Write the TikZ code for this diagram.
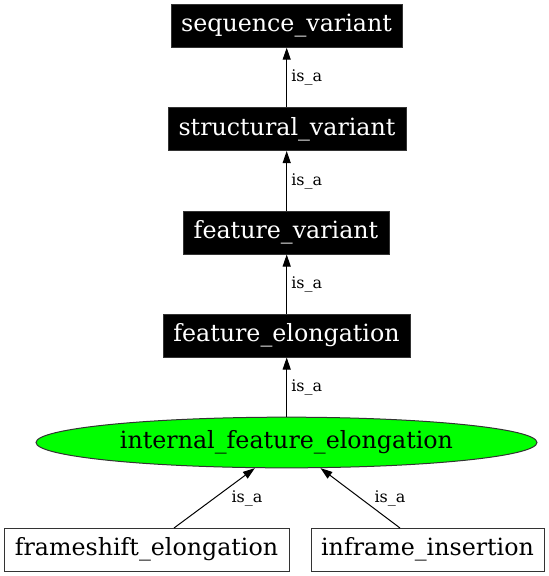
\documentclass[tikz,border=0pt]{standalone}
\usepackage{fontspec}
\setmainfont{DejaVu Serif}
\usetikzlibrary{arrows.meta,shapes.geometric}
\newcommand{\nodefnt}{\fontsize{17.8}{21}\selectfont}
\newcommand{\labfnt}{\fontsize{12}{14}\selectfont}
\tikzset{
  darkbox/.style={rectangle, fill=black, draw=black!80, line width=0.75pt, text=white, inner sep=0pt, minimum height=32.25pt, font=\nodefnt},
  whitebox/.style={rectangle, fill=white, draw=black!80, line width=0.75pt, text=black, inner sep=0pt, minimum height=32.25pt, font=\nodefnt},
  greenell/.style={ellipse, fill=green, draw=black!80, line width=0.75pt, inner sep=0pt, minimum width=375.75pt, minimum height=38pt, font=\nodefnt},
  isa/.style={-{Triangle[length=9pt,width=6pt]}, line width=0.75pt, black},
  elab/.style={font=\labfnt, inner sep=0pt}
}
\begin{document}
\begin{tikzpicture}[x=0.75pt,y=-0.75pt]
\useasboundingbox (0,0) rectangle (549,576);
\node[darkbox, minimum width=173.25pt] (sv) at (286.5,25.7) {sequence\_variant};
\node[darkbox, minimum width=178.5pt] (stv) at (287,129) {structural\_variant};
\node[darkbox, minimum width=154.5pt] (fv) at (286,232.5) {feature\_variant};
\node[darkbox, minimum width=185.25pt] (fe) at (286.5,335.5) {feature\_elongation};
\node[greenell] (ife) at (286.5,442.5) {internal\_feature\_elongation};
\node[whitebox, minimum width=213.75pt] (fs) at (146.5,549.5) {frameshift\_elongation};
\node[whitebox, minimum width=174.75pt] (ins) at (427.5,549.5) {inframe\_insertion};
\coordinate (fst) at (174,528);
\coordinate (inst) at (400,528);
\draw[isa] (stv.north -| 286.7,0) -- (sv.south -| 286.7,0);
\draw[isa] (fv.north -| 286.7,0) -- (stv.south -| 286.7,0);
\draw[isa] (fe.north -| 286.7,0) -- (fv.south -| 286.7,0);
\draw[isa] (ife.north -| 286.7,0) -- (fe.south -| 286.7,0);
\draw[isa] (fst) -- (ife.219);
\draw[isa] (inst) -- (ife.-37);
\node[elab, anchor=west] (l1) at (291,77) {is\_a};
\node[elab, anchor=west] (l2) at (291,181) {is\_a};
\node[elab, anchor=west] (l3) at (291,284) {is\_a};
\node[elab, anchor=west] (l4) at (291,387) {is\_a};
\node[elab] (l5) at (247,498) {is\_a};
\node[elab] (l6) at (390,498) {is\_a};
\end{tikzpicture}
\end{document}
